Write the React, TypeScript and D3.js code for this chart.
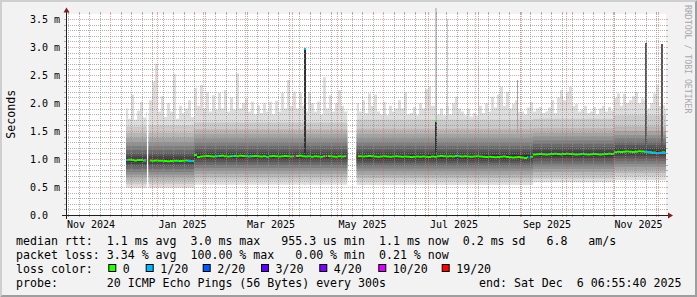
import React from "react";
import * as d3 from "d3";

const W = 697;
const H = 297;
const DAY = 86400000;
const END = Date.UTC(2025, 11, 6, 6, 55, 40);
const START = END - 400 * DAY;
const DAY0 = Date.UTC(2024, 11, 1); // all day offsets count from Dec 1 2024 00:00 UTC
const Y_MAX = 3.589;

// ---- axis text ----
const yLabelValues = [0, 0.5, 1.0, 1.5, 2.0, 2.5, 3.0, 3.5];
const yLabelTexts = ["0.0", "0.5 m", "1.0 m", "1.5 m", "2.0 m", "2.5 m", "3.0 m", "3.5 m"];
const xLabelYears = [2024, 2025, 2025, 2025, 2025, 2025, 2025];
const xLabelMonths = [10, 0, 2, 4, 6, 8, 10];
const xLabelTexts = ["Nov 2024", "Jan 2025", "Mar 2025", "May 2025", "Jul 2025", "Sep 2025", "Nov 2025"];

// ---- data: 2-day buckets starting at day 9.6 ----
const BUCKET0 = 9.6;
const BUCKET_DAYS = 2;

// highest ping (p20) per bucket, ms
const p20 = [
  1.90, 1.72, 2.15, 1.70, 1.86, 2.02, 1.74, 1.84, 2.05, 2.38,
  2.70, 1.85, 2.12, 1.75, 2.00, 1.85, 2.52, 1.72, 1.95, 1.82,
  1.90, 2.05, 1.75, 2.27, 1.95, 2.32, 1.90, 2.20, 1.85, 2.14,
  1.88, 2.18, 1.90, 2.23, 1.85, 2.10, 1.88, 2.53, 1.90, 2.00,
  2.08, 1.85, 2.02, 1.80, 1.96, 1.82, 2.00, 1.85, 2.02, 1.80,
  2.04, 1.85, 2.18, 1.90, 2.41, 1.95, 2.20, 1.90, 2.18, 1.95,
  1.85, 2.20, 2.00, 1.85, 2.02, 1.80, 2.46, 1.90, 2.14, 1.85,
  2.00, 2.23, 1.95, 1.85, 1.95, 2.00, 2.00, 2.00, 1.85, 2.05,
  1.82, 2.17, 1.95, 2.15, 1.85, 1.80, 2.02, 1.78, 1.95, 1.85,
  1.90, 2.05, 1.90, 2.20, 1.80, 1.82, 1.93, 1.78, 2.00, 1.90,
  2.25, 2.30, 1.95, 1.95, 1.80, 1.90, 1.78, 1.95, 1.80, 2.00,
  2.11, 1.90, 1.85, 1.78, 1.90, 1.76, 1.82, 1.78, 1.95, 1.82,
  2.00, 1.85, 2.11, 1.92, 2.15, 2.29, 1.95, 2.20, 1.90, 1.98,
  2.05, 1.85, 1.85, 1.80, 1.92, 2.02, 1.85, 1.90, 1.93, 1.82,
  1.85, 1.92, 2.05, 1.82, 2.10, 2.23, 2.05, 2.20, 2.29, 1.95,
  1.98, 1.85, 1.88, 1.95, 1.82, 1.85, 1.93, 1.80, 1.90, 1.95,
  1.85, 1.93, 1.86, 2.09, 2.17, 1.95, 2.16, 2.00, 2.05, 2.12,
  2.20, 2.00, 2.08, 2.05, 1.90, 2.00, 2.17, 2.32, 1.95, 1.96,
  1.90,
];

// median rtt per bucket, ms
const medians = [
  0.98, 0.985, 0.98, 0.975, 0.98, 0.98, 0.975, 0.975,
  0.975, 0.97, 0.975, 0.97, 0.97, 0.965, 0.96, 0.965, 0.97, 0.97, 0.965, 0.97, 0.975, 0.97, 0.965,
  1.07, 1.035, 1.045, 1.05, 1.055, 1.05, 1.045, 1.05, 1.055, 1.06,
  1.05, 1.045, 1.05, 1.055, 1.05, 1.06, 1.055, 1.05, 1.045, 1.05,
  1.055, 1.05, 1.045, 1.05, 1.04, 1.05, 1.055, 1.05, 1.045, 1.05,
  1.055, 1.05, 1.045, 1.05, 1.055, 1.06, 1.05, 1.045, 1.05, 1.04,
  1.05, 1.045, 1.04, 1.05, 1.055, 1.05, 1.045, 1.04, 1.05, 1.045, 1.05,
  1.05, 1.05, 1.05,
  1.05, 1.05, 1.045, 1.05, 1.055, 1.05, 1.045, 1.04, 1.045, 1.05,
  1.045, 1.04, 1.045, 1.05, 1.045, 1.04, 1.045, 1.04, 1.035, 1.04,
  1.045, 1.04, 1.045, 1.04, 1.035, 1.045, 1.04, 1.05, 1.055, 1.05,
  1.045, 1.05, 1.045, 1.055, 1.05, 1.045, 1.05, 1.045, 1.04, 1.045,
  1.05, 1.045, 1.04, 1.035, 1.04, 1.035, 1.03, 1.035, 1.04, 1.045,
  1.035, 1.03, 1.025, 1.03, 1.035, 1.025, 1.02, 1.03, 1.04,
  1.08, 1.085, 1.09, 1.085, 1.08, 1.085, 1.09, 1.095, 1.09, 1.085,
  1.09, 1.095, 1.09, 1.085, 1.08, 1.085, 1.09, 1.085, 1.08, 1.085,
  1.09, 1.085, 1.08, 1.085, 1.09, 1.095, 1.09,
  1.12, 1.13, 1.125, 1.13, 1.135, 1.13, 1.125, 1.13, 1.14, 1.135,
  1.13, 1.12, 1.11, 1.115, 1.105, 1.11, 1.12, 1.11,
];

// periods with a steady ping spread (p1..p19, ms); outside them there is no data
const eraStart = [10.3, 25.4, 55.6, 164.1, 281.6, 335.6];
const eraEnd = [24.1, 55.6, 157.8, 281.6, 335.6, 370.3];
const eraPings = [
  [0.48, 0.55, 0.61, 0.67, 0.72, 0.77, 0.82, 0.87, 0.91, 0.95, 1.0, 1.05, 1.1, 1.16, 1.23, 1.3, 1.38, 1.47, 1.58],
  [0.48, 0.55, 0.61, 0.67, 0.72, 0.77, 0.82, 0.87, 0.91, 0.95, 1.0, 1.05, 1.1, 1.16, 1.23, 1.3, 1.38, 1.47, 1.6],
  [0.54, 0.61, 0.67, 0.73, 0.79, 0.84, 0.89, 0.94, 0.98, 1.02, 1.075, 1.12, 1.17, 1.23, 1.3, 1.37, 1.45, 1.53, 1.65],
  [0.535, 0.6, 0.66, 0.72, 0.78, 0.83, 0.88, 0.93, 0.97, 1.01, 1.07, 1.12, 1.17, 1.23, 1.3, 1.37, 1.45, 1.54, 1.7],
  [0.585, 0.65, 0.71, 0.77, 0.82, 0.87, 0.92, 0.97, 1.02, 1.06, 1.11, 1.16, 1.21, 1.27, 1.33, 1.4, 1.47, 1.55, 1.72],
  [0.62, 0.69, 0.75, 0.81, 0.86, 0.91, 0.96, 1.01, 1.06, 1.1, 1.15, 1.2, 1.25, 1.31, 1.37, 1.43, 1.5, 1.58, 1.78],
];

// single-column outliers: pings from index "from" (1-based) upward rise to "top"
const spikeDay = [128.95, 216.6, 216.6, 224.1, 244.75, 270.75, 356.3, 366.7];
const spikeWidth = [1.33, 1.33, 1.33, 0.67, 0.67, 0.67, 1.33, 1.33];
const spikeFrom = [11, 11, 19, 19, 20, 17, 13, 13];
const spikeTop = [2.98, 1.68, 3.7, 3.5, 2.71, 2.41, 3.07, 3.06];

// median outliers
const medSpikeDay = [128.95, 216.6];
const medSpikeWidth = [1.33, 0.8];
const medSpikeValue = [2.965, 1.675];
const medSpikeLoss = [1, 0];

// packet loss events (day, width in days, lost pings of 20)
const lossDay = [10.3, 22.6, 23.6, 25.4, 44.9, 51.6, 70.7, 80.7, 92.3, 104.1, 122.5, 130.9, 142.9, 144.1, 157.0, 164.5, 230.7, 278.5, 314.1, 356.3, 361.5];
const lossWidth = [1.0, 1.0, 0.5, 0.7, 1.0, 3.5, 1.3, 1.3, 1.3, 0.7, 1.0, 1.0, 1.0, 0.7, 0.8, 0.7, 1.3, 1.3, 1.0, 4.5, 8.8];
const lossCount = [1, 1, 19, 19, 1, 1, 1, 1, 1, 1, 10, 1, 10, 19, 10, 19, 1, 2, 1, 1, 1];

const lossLevels = [0, 1, 2, 3, 4, 10, 19];
const lossLabels = ["0", "1/20", "2/20", "3/20", "4/20", "10/20", "19/20"];
const lossColors = ["#26ff00", "#00b8ff", "#0059ff", "#5e00ff", "#7e00ff", "#dd00ff", "#ff0000"];
const smokeColors = ["#dddddd", "#cacaca", "#b7b7b7", "#a4a4a4", "#919191", "#7e7e7e", "#6b6b6b", "#585858", "#454545", "#323232"];

const legendRow1 = "median rtt:  1.1 ms avg  3.0 ms max   955.3 us min  1.1 ms now  0.2 ms sd   6.8   am/s";
const legendRow2 = "packet loss: 3.34 % avg  100.00 % max   0.00 % min  0.21 % now";
const legendRow3 = "loss color:";
const legendProbe = "probe:       20 ICMP Echo Pings (56 Bytes) every 300s";
const legendEnd = "end: Sat Dec  6 06:55:40 2025";
const lossBoxX = [108.3, 145.7, 202.7, 261, 319.3, 378.3, 441.7];

const FONT = "'DejaVu Sans Mono', monospace";
const GRID = "rgba(143,143,143,0.7)";
const MGRID = "rgba(222,79,79,0.5)";

type Seg = { a: number; b: number; p: number[]; med: number };

function lossColor(n: number) {
  const i = lossLevels.indexOf(n);
  return lossColors[i < 0 ? 0 : i];
}

export default function App() {
  const x = d3.scaleUtc().domain([new Date(START), new Date(END)]).range([66, 666]);
  const y = d3.scaleLinear().domain([0, Y_MAX]).range([215, 14]);
  const xd = (d: number) => x(new Date(DAY0 + d * DAY));
  const bucketOf = (d: number) => Math.max(0, Math.min(p20.length - 1, Math.floor((d - BUCKET0) / BUCKET_DAYS)));
  const eraOf = (d: number) => {
    for (let e = 0; e < eraStart.length; e++) if (d >= eraStart[e] && d < eraEnd[e]) return e;
    return -1;
  };

  const runs: Seg[][] = eraStart.map((es, e) => {
    const run: Seg[] = [];
    for (let k = 0; k < p20.length; k++) {
      const d0 = BUCKET0 + BUCKET_DAYS * k;
      const d1 = d0 + BUCKET_DAYS;
      const a = Math.max(d0, es);
      const b = Math.min(d1, eraEnd[e]);
      if (b > a) run.push({ a, b, p: [...eraPings[e], p20[k]], med: medians[k] });
    }
    return run;
  });

  type Pt = { t: number; lo: number; hi: number };
  const stepArea = d3
    .area<Pt>()
    .x((d) => xd(d.t))
    .y0((d) => d.lo)
    .y1((d) => d.hi)
    .curve(d3.curveStepAfter);

  const runPath = (f: (s: Seg) => [number, number]) =>
    runs
      .filter((r) => r.length)
      .map((run) => {
        const pts: Pt[] = run.map((s) => {
          const [lo, hi] = f(s);
          return { t: s.a, lo, hi };
        });
        const last = run[run.length - 1];
        const [lo, hi] = f(last);
        pts.push({ t: last.b, lo, hi });
        return stepArea(pts) || "";
      })
      .join(" ");

  const bandPaths = smokeColors.map((c, i) => ({
    c,
    d: runPath((s) => [y(s.p[i]), y(s.p[19 - i])]),
  }));
  const medianPath = runPath((s) => [y(s.med) + 1, y(s.med) - 1]);

  const spikeGroups: { day: number; w: number; idx: number[] }[] = [];
  spikeDay.forEach((d, i) => {
    const g = spikeGroups.find((g) => g.day === d);
    if (g) g.idx.push(i);
    else spikeGroups.push({ day: d, w: spikeWidth[i], idx: [i] });
  });
  const spikeCols = spikeGroups.map((g) => {
    const e = eraOf(g.day + g.w / 2);
    const k = bucketOf(g.day + g.w / 2);
    const p = [...eraPings[Math.max(0, e)], p20[k]];
    g.idx.forEach((i) => {
      for (let j = spikeFrom[i] - 1; j < 20; j++) p[j] = Math.max(p[j], spikeTop[i]);
    });
    return { x0: xd(g.day), x1: xd(g.day + g.w), p };
  });

  const yMinor = d3.range(1, 36).map((i) => i / 10).filter((v) => Math.round(v * 10) % 5 !== 0);
  const yMajor = [0.5, 1.0, 1.5, 2.0, 2.5, 3.0, 3.5];
  const months = d3.utcMonth.range(new Date(START), new Date(END));
  const weeks = d3.utcSunday.range(new Date(START), new Date(END)).filter((dt) => dt.getUTCDate() !== 1);
  const gx = (dt: Date) => Math.floor(x(dt)) + 0.5;
  const gy = (v: number) => Math.round(y(v)) + 0.5;

  const legendY = [244.5, 258.6, 272.7, 286.8];

  return (
    <svg
      width={W}
      height={H}
      viewBox={`0 0 ${W} ${H}`}
      style={{ position: "absolute", left: 0, top: 0, display: "block" }}
      fontFamily={FONT}
    >
      <rect x={0} y={0} width={W} height={H} fill="#f2f2f2" />
      <polygon points={`0,0 ${W},0 ${W - 2},2 2,2 2,${H - 2} 0,${H}`} fill="#cfcfcf" />
      <polygon points={`${W},0 ${W},${H} 0,${H} 2,${H - 2} ${W - 2},${H - 2} ${W - 2},2`} fill="#9e9e9e" />
      <rect x={66} y={14} width={600} height={201} fill="#ffffff" />

      {bandPaths.map((b, i) => (
        <path key={i} d={b.d} fill={b.c} />
      ))}
      {spikeCols.map((s, j) =>
        smokeColors.map((c, i) => (
          <rect
            key={`${j}-${i}`}
            x={s.x0}
            width={Math.max(1, s.x1 - s.x0)}
            y={y(s.p[19 - i])}
            height={Math.max(0, y(s.p[i]) - y(s.p[19 - i]))}
            fill={c}
            shapeRendering="crispEdges"
          />
        ))
      )}

      <path d={medianPath} fill={lossColors[0]} />
      {lossDay.map((d, i) => {
        const k = bucketOf(d + lossWidth[i] / 2);
        const m = medians[k];
        return (
          <rect
            key={i}
            x={xd(d)}
            width={Math.max(1, xd(d + lossWidth[i]) - xd(d))}
            y={y(m) - 1}
            height={2}
            fill={lossColor(lossCount[i])}
            shapeRendering="crispEdges"
          />
        );
      })}
      {medSpikeDay.map((d, i) => (
        <rect
          key={i}
          x={xd(d)}
          width={Math.max(1, xd(d + medSpikeWidth[i]) - xd(d))}
          y={y(medSpikeValue[i]) - 1}
          height={2}
          fill={lossColor(medSpikeLoss[i])}
          shapeRendering="crispEdges"
        />
      ))}

      <g strokeWidth={1} fill="none">
        {yMinor.map((v) => (
          <g key={`ym${v}`} stroke={GRID}>
            <line x1={66} x2={666} y1={gy(v)} y2={gy(v)} strokeDasharray="1,1" />
            <line x1={64} x2={66} y1={gy(v)} y2={gy(v)} />
            <line x1={666} x2={668} y1={gy(v)} y2={gy(v)} />
          </g>
        ))}
        {weeks.map((dt) => (
          <g key={`xw${+dt}`} stroke={GRID}>
            <line x1={gx(dt)} x2={gx(dt)} y1={14} y2={215} strokeDasharray="1,1" />
            <line x1={gx(dt)} x2={gx(dt)} y1={215} y2={217} />
            <line x1={gx(dt)} x2={gx(dt)} y1={12} y2={14} />
          </g>
        ))}
        {yMajor.map((v) => (
          <g key={`yM${v}`} stroke={MGRID}>
            <line x1={66} x2={666} y1={gy(v)} y2={gy(v)} strokeDasharray="1,1" />
            <line x1={64} x2={66} y1={gy(v)} y2={gy(v)} />
            <line x1={666} x2={668} y1={gy(v)} y2={gy(v)} />
          </g>
        ))}
        {months.map((dt) => (
          <g key={`xM${+dt}`} stroke={MGRID}>
            <line x1={gx(dt)} x2={gx(dt)} y1={14} y2={215} strokeDasharray="1,1" />
            <line x1={gx(dt)} x2={gx(dt)} y1={215} y2={217} />
            <line x1={gx(dt)} x2={gx(dt)} y1={12} y2={14} />
          </g>
        ))}
      </g>

      <line x1={62} x2={670} y1={215.5} y2={215.5} stroke="#1f1f1f" strokeWidth={1} />
      <line x1={66.5} x2={66.5} y1={219} y2={10} stroke="#1f1f1f" strokeWidth={1} />
      <polygon points="668,212.5 668,218.5 673,215.5" fill="#801f1f" />
      <polygon points="63.5,12.5 69.5,12.5 66.5,7.5" fill="#801f1f" />

      {yLabelValues.map((v, i) => (
        <text key={i} x={30} y={Math.round(y(v)) + 3.8} fontSize={10} fill="#000" xmlSpace="preserve">
          {yLabelTexts[i]}
        </text>
      ))}
      {xLabelTexts.map((t, i) => (
        <text
          key={t}
          x={x(new Date(Date.UTC(xLabelYears[i], xLabelMonths[i], 1) + 17 * DAY))}
          y={228}
          fontSize={10}
          textAnchor="middle"
          fill="#000"
        >
          {t}
        </text>
      ))}

      <text
        transform="translate(10.5,114.3) rotate(-90)"
        textAnchor="middle"
        dominantBaseline="central"
        fontSize={11.6}
        fill="#000"
      >
        Seconds
      </text>
      <text
        transform="translate(687.7,5) rotate(90)"
        dominantBaseline="central"
        fontSize={8.2}
        fill="#a8a8a8"
        xmlSpace="preserve"
      >
        RRDTOOL / TOBI OETIKER
      </text>

      <g fontSize={11.6} fill="#000">
        <text x={16} y={legendY[0]} xmlSpace="preserve">{legendRow1}</text>
        <text x={16} y={legendY[1]} xmlSpace="preserve">{legendRow2}</text>
        <text x={16} y={legendY[2]} xmlSpace="preserve">{legendRow3}</text>
        {lossLabels.map((l, i) => (
          <g key={l}>
            <rect x={lossBoxX[i] + 0.5} y={264.5} width={7} height={7} fill={lossColors[i]} stroke="#000" strokeWidth={1} />
            <text x={lossBoxX[i] + 14.5} y={legendY[2]} xmlSpace="preserve">{l}</text>
          </g>
        ))}
        <text x={16} y={legendY[3]} xmlSpace="preserve">{legendProbe}</text>
        <text x={479} y={legendY[3]} xmlSpace="preserve">{legendEnd}</text>
      </g>
    </svg>
  );
}
